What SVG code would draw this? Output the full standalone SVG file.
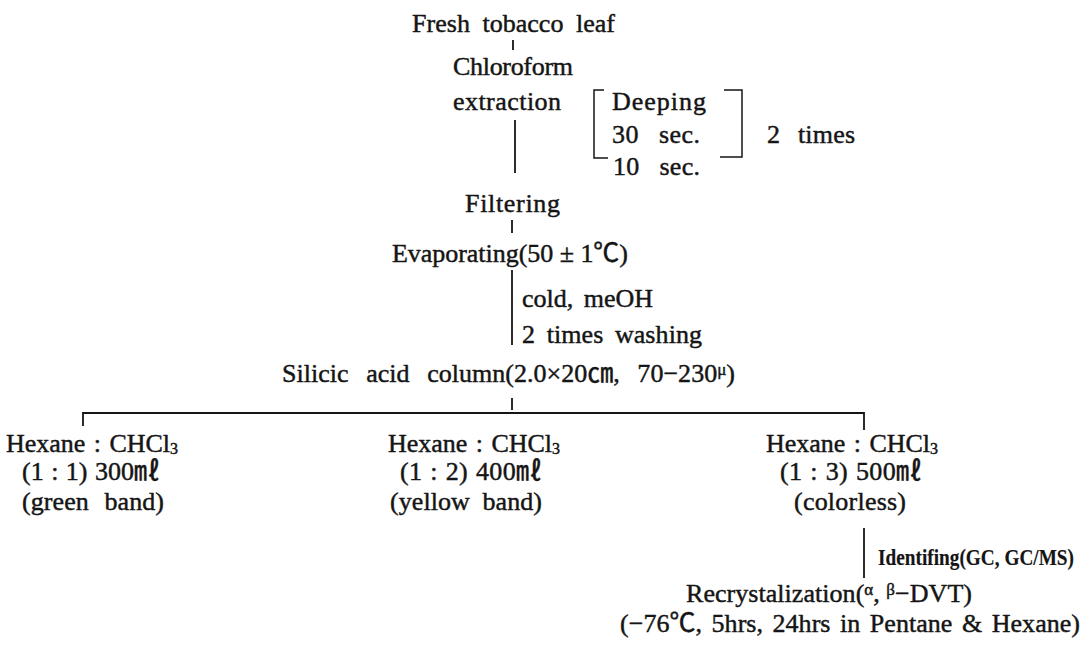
<svg xmlns="http://www.w3.org/2000/svg" width="1088" height="647" viewBox="0 0 1088 647">
<style>
text{font-family:'Liberation Serif','Noto Sans CJK KR',serif;font-size:26px;fill:#151515;stroke:#151515;stroke-width:0.45;stroke-linejoin:round}
.id{font-size:20px;font-weight:bold;stroke-width:0.15}
.sm{font-size:17px}
.sub{font-size:16px}
.ln{stroke:#151515;stroke-width:1.8;fill:none}
.br{stroke:#151515;stroke-width:1.5;fill:none}
</style>
<rect width="1088" height="647" fill="#fff"/>
<g id="connectors">
<line class="ln" x1="513" y1="40" x2="513" y2="50"/>
<line class="ln" x1="515" y1="120" x2="515" y2="173"/>
<line class="ln" x1="512" y1="220" x2="512" y2="233"/>
<line class="ln" x1="512" y1="270" x2="512" y2="345"/>
<line class="ln" x1="512" y1="398" x2="512" y2="410"/>
<path class="ln" d="M83,426 V413 H864 V430"/>
<line class="ln" x1="864" y1="528" x2="864" y2="578"/>
</g>
<g id="n-fresh"><text x="412" y="32" textLength="203" word-spacing="6">Fresh tobacco leaf</text></g>
<g id="n-chloroform">
<text x="453" y="75" textLength="120">Chloroform</text>
<text x="453" y="110" textLength="108">extraction</text>
</g>
<g id="n-deeping">
<path class="br" d="M604,90 H594 V158 H608"/>
<text x="612" y="110" textLength="94">Deeping</text>
<text x="612" y="143" textLength="88" word-spacing="13">30 sec.</text>
<text x="613" y="175" textLength="87" word-spacing="13">10 sec.</text>
<path class="br" d="M724,90 H742 V157 H720"/>
<text x="767" y="143" textLength="88" word-spacing="11">2 times</text>
</g>
<g id="n-filtering"><text x="465" y="212" textLength="95">Filtering</text></g>
<g id="n-evaporating"><text x="392" y="262" textLength="236">Evaporating(50 ± 1℃)</text></g>
<g id="n-washing">
<text x="522" y="307" textLength="131" word-spacing="4">cold, meOH</text>
<text x="522" y="343" textLength="180" word-spacing="5">2 times washing</text>
</g>
<g id="n-column"><text x="282" y="382" textLength="453" word-spacing="11">Silicic acid column(2.0×20㎝, 70−230<tspan class="sm" dy="-7">μ</tspan><tspan dy="7">)</tspan></text></g>
<g id="n-frac1">
<text x="6" y="452" textLength="172" word-spacing="2">Hexane : CHCl<tspan class="sub" dy="2">3</tspan></text>
<text x="22" y="480" textLength="138" word-spacing="1">(1 : 1) 300㎖</text>
<text x="22" y="510" textLength="142" word-spacing="9">(green band)</text>
</g>
<g id="n-frac2">
<text x="388" y="452" textLength="172" word-spacing="2">Hexane : CHCl<tspan class="sub" dy="2">3</tspan></text>
<text x="400" y="480" textLength="142" word-spacing="1">(1 : 2) 400㎖</text>
<text x="390" y="510" textLength="152" word-spacing="6">(yellow band)</text>
</g>
<g id="n-frac3">
<text x="766" y="452" textLength="172" word-spacing="2">Hexane : CHCl<tspan class="sub" dy="2">3</tspan></text>
<text x="780" y="480" textLength="142" word-spacing="1">(1 : 3) 500㎖</text>
<text x="794" y="510" textLength="112">(colorless)</text>
</g>
<g id="n-identify"><text class="id" transform="translate(878,565) scale(1,1.15)" x="0" y="0" textLength="196" lengthAdjust="spacingAndGlyphs">Identifing(GC, GC/MS)</text></g>
<g id="n-recryst">
<text x="686" y="602" textLength="286">Recrystalization(<tspan class="sm" dy="-7">α</tspan><tspan dy="7">, </tspan><tspan class="sm" dy="-7">β</tspan><tspan dy="7">−DVT)</tspan></text>
<text x="620" y="632" textLength="460" word-spacing="3">(−76℃, 5hrs, 24hrs in Pentane &amp; Hexane)</text>
</g>
</svg>
